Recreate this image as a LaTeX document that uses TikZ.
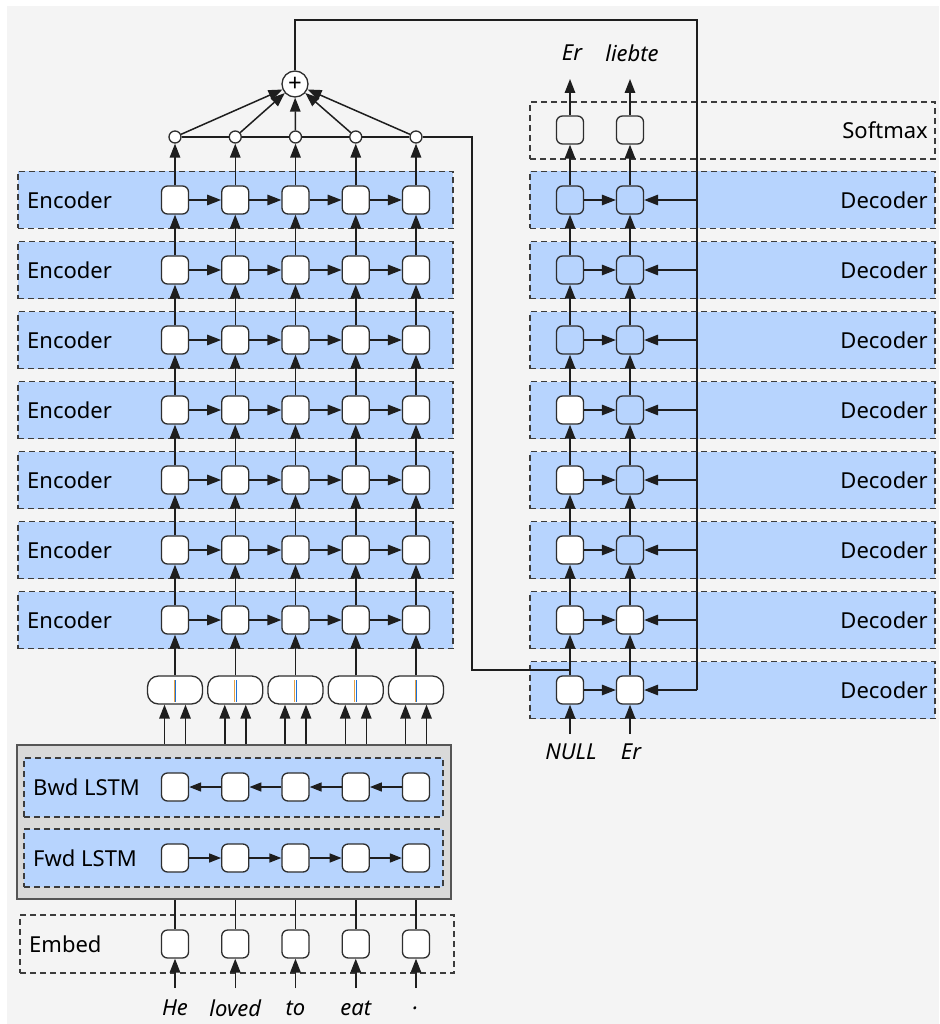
\documentclass[tikz,border=0pt]{standalone}
\usepackage{fontspec}
\setmainfont{Noto Sans}
\usetikzlibrary{arrows.meta,calc}
\definecolor{bgc}{HTML}{F4F4F4}
\definecolor{bandc}{HTML}{B7D4FE}
\definecolor{dashc}{HTML}{3C3C3C}
\definecolor{cellc}{HTML}{2E2E2E}
\definecolor{linec}{HTML}{1E1E1E}
\definecolor{boxc}{HTML}{D9D9D9}
\definecolor{boxedge}{HTML}{555555}
\definecolor{fwdc}{HTML}{E8A040}
\definecolor{bwdc}{HTML}{2070D0}
\begin{document}
\begin{tikzpicture}[x=1pt,y=-1pt,
  every node/.style={font=\fontsize{22}{26}\selectfont},
  band/.style={draw=dashc, line width=1.4pt, dash pattern=on 6pt off 4pt, fill=bandc, minimum height=57pt, inner sep=0pt},
  openband/.style={band, fill=none},
  cell/.style={draw=cellc, line width=1.3pt, fill=white, rounded corners=6pt, minimum width=27pt, minimum height=28pt, inner sep=0pt},
  ghost/.style={cell, fill=none},
  pair/.style={cell, minimum width=55pt, rounded corners=11pt},
  dot/.style={circle, draw=cellc, line width=1.3pt, fill=white, minimum size=12pt, inner sep=0pt},
  sumc/.style={circle, draw=cellc, line width=1.3pt, fill=white, minimum size=26pt, inner sep=0pt, font=\fontsize{24}{24}\selectfont},
  arr/.style={-{Triangle[length=14pt,width=10.5pt]}, line width=1.5pt, draw=linec, fill=linec},
  small/.style={-{Triangle[length=12pt,width=9pt]}, line width=1.5pt, draw=linec, fill=linec},
  link/.style={line width=1.5pt, draw=linec},
  lbl/.style={inner sep=0pt, text=black},
  word/.style={font=\fontsize{22}{26}\selectfont\itshape, inner sep=0pt}
]
% canvas
\fill[white] (0,0) rectangle (939,1024);
\fill[bgc] (7,6) rectangle (939,1024);
\useasboundingbox (0,0) rectangle (939,1024);

% ---------- encoder stack ----------
\foreach \r in {1,...,7}{
  \pgfmathsetmacro\yy{200+70*(\r-1)}
  \node[band, minimum width=435pt] (eb-\r) at (235.5,\yy) {};
  \node[lbl, anchor=west] (el-\r) at (27,\yy) {Encoder};
  \foreach \c in {1,...,5}{
    \pgfmathsetmacro\xx{175+60.25*(\c-1)}
    \node[cell] (e-\r-\c) at (\xx,\yy) {};
  }
}
\foreach \r in {1,...,7}{
  \foreach \c [evaluate=\c as \n using int(\c+1)] in {1,...,4}{
    \draw[arr] (e-\r-\c.east) -- (e-\r-\n.west);
  }
}
\foreach \r [evaluate=\r as \n using int(\r+1)] in {1,...,6}{
  \foreach \c in {1,...,5}{
    \draw[arr] (e-\n-\c.north) -- (e-\r-\c.south);
  }
}

% ---------- attention sum ----------
\node[sumc] (sum) at (295,84) {+};
\foreach \c in {1,...,5}{
  \pgfmathsetmacro\xx{175+60.25*(\c-1)}
  \node[dot] (o-\c) at (\xx,137) {};
  \draw[arr] (e-1-\c.north) -- (o-\c.south);
  \draw[arr] (o-\c) -- (sum);
}
\draw[link] (o-1) -- (o-2) -- (o-3) -- (o-4) -- (o-5);

% ---------- concatenated bidirectional states ----------
\foreach \c in {1,...,5}{
  \pgfmathsetmacro\xx{175+60.25*(\c-1)}
  \node[pair] (k-\c) at (\xx,690) {};
  \draw[fwdc, line width=1pt] ([xshift=-0.9pt]k-\c.center) ++(0,-10) -- ++(0,22);
  \draw[bwdc, line width=1pt] ([xshift=0.9pt]k-\c.center) ++(0,-10) -- ++(0,22);
  \draw[arr] (k-\c.north) -- (e-7-\c.south);
}

% ---------- bidirectional LSTM ----------
\node[draw=boxedge, line width=1.6pt, fill=boxc, minimum width=434pt, minimum height=154pt, inner sep=0pt] (bil) at (234,822) {};
\node[band, minimum width=419pt, minimum height=59pt] (bb) at (233.5,787.5) {};
\node[band, minimum width=419pt, minimum height=58pt] (fb) at (233.5,858) {};
\node[lbl, anchor=west] (bl) at (33,787) {Bwd LSTM};
\node[lbl, anchor=west] (fl) at (33,858) {Fwd LSTM};
\foreach \c in {1,...,5}{
  \pgfmathsetmacro\xx{175+60.25*(\c-1)}
  \node[cell] (b-\c) at (\xx,787) {};
  \node[cell] (f-\c) at (\xx,858) {};
  \draw[arr] ([xshift=-10.5pt]k-\c.south |- bil.north) -- ([xshift=-10.5pt]k-\c.south);
  \draw[arr] ([xshift=10.5pt]k-\c.south |- bil.north) -- ([xshift=10.5pt]k-\c.south);
}
\foreach \c [evaluate=\c as \n using int(\c+1)] in {1,...,4}{
  \draw[small] (b-\n.west) -- (b-\c.east);
  \draw[small] (f-\c.east) -- (f-\n.west);
}

% ---------- embedding ----------
\node[openband, minimum width=434pt, minimum height=58pt] (mb) at (237,944) {};
\node[lbl, anchor=west] (ml) at (29,944) {Embed};
\foreach \c/\w in {1/He,2/loved,3/to,4/eat,5/.}{
  \pgfmathsetmacro\xx{175+60.25*(\c-1)}
  \node[cell] (m-\c) at (\xx,944) {};
  \draw[link] (m-\c.north) -- (m-\c |- bil.south);
  \coordinate (v-\c) at (\xx,988);
  \draw[arr] (v-\c) -- (m-\c.south);
  \node[word] (iw-\c) at (\xx,1008) {\w};
}

% ---------- decoder stack ----------
\node[openband, minimum width=405pt] (sb) at (732.5,130.5) {};
\node[lbl, anchor=east] (sl) at (928,130.5) {Softmax};
\foreach \r in {1,...,8}{
  \pgfmathsetmacro\yy{200+70*(\r-1)}
  \node[band, minimum width=405pt] (db-\r) at (732.5,\yy) {};
  \node[lbl, anchor=east] (dl-\r) at (928,\yy) {Decoder};
  \ifnum\r<4 \node[ghost] (d-\r-1) at (570,\yy) {}; \else \node[cell] (d-\r-1) at (570,\yy) {}; \fi
  \ifnum\r<7 \node[ghost] (d-\r-2) at (630,\yy) {}; \else \node[cell] (d-\r-2) at (630,\yy) {}; \fi
}
\node[ghost] (s-1) at (570,130) {};
\node[ghost] (s-2) at (630,130) {};

% context path from the attention sum to every second decoder column cell
\coordinate (tl) at (295,20);
\coordinate (tr) at (697,20);
\coordinate (br) at (697,690);
\draw[link] (sum.north) -- (tl) -- (tr) -- (br);
\foreach \r in {1,...,8}{
  \draw[arr] (d-\r-2 -| tr) -- (d-\r-2.east);
  \draw[arr] (d-\r-1.east) -- (d-\r-2.west);
}
\foreach \r [evaluate=\r as \n using int(\r+1)] in {1,...,7}{
  \draw[arr] (d-\n-1.north) -- (d-\r-1.south);
  \draw[arr] (d-\n-2.north) -- (d-\r-2.south);
}
\draw[arr] (d-1-1.north) -- (s-1.south);
\draw[arr] (d-1-2.north) -- (s-2.south);

% encoder summary fed into the first decoder step
\coordinate (ra) at (472,137);
\coordinate (jn) at (570,670);
\draw[link] (o-5.east) -- (ra) |- (jn);

% outputs
\coordinate (t-1) at (570,79);
\coordinate (t-2) at (630,79);
\draw[arr] (s-1.north) -- (t-1);
\draw[arr] (s-2.north) -- (t-2);
\node[word] (ow-1) at (572,53) {Er};
\node[word] (ow-2) at (632,53) {liebte};

% decoder inputs
\coordinate (u-1) at (570,734);
\coordinate (u-2) at (630,734);
\draw[arr] (u-1) -- (d-8-1.south);
\draw[arr] (u-2) -- (d-8-2.south);
\node[word] (nw-1) at (571,752) {NULL};
\node[word] (nw-2) at (631,752) {Er};
\end{tikzpicture}
\end{document}
